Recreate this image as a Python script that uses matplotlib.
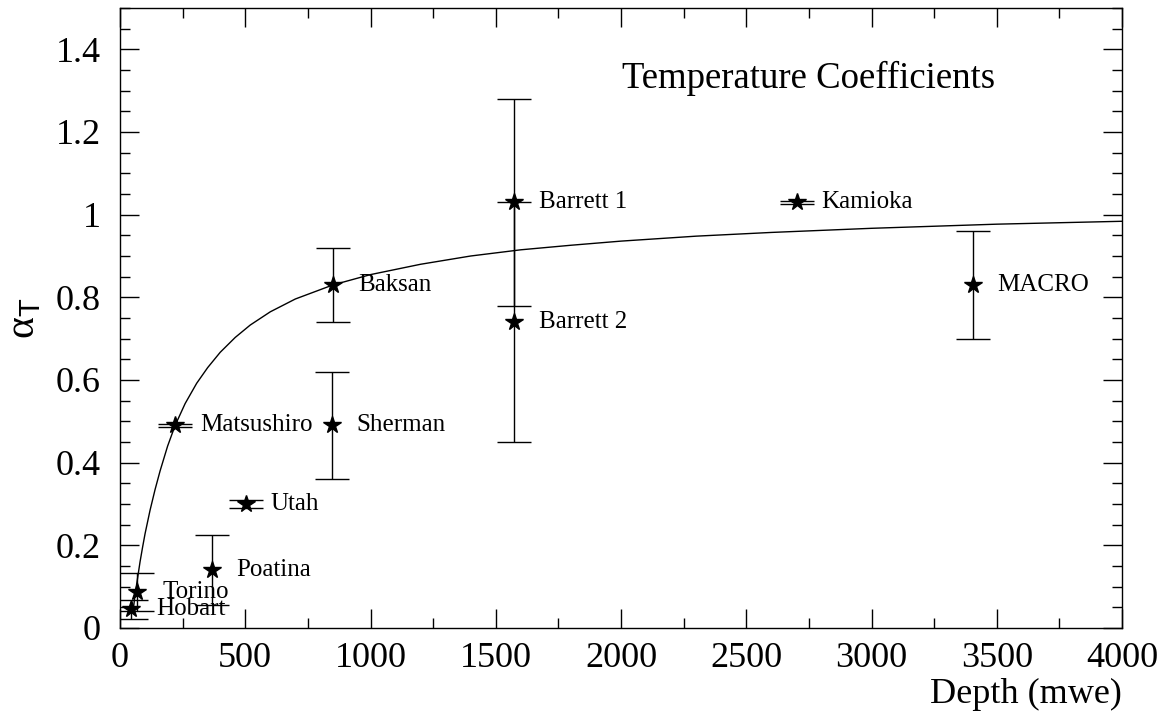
import matplotlib
matplotlib.use("Agg")
import matplotlib.pyplot as plt
from matplotlib.ticker import MultipleLocator, FixedLocator

plt.rcParams['font.family'] = ['Liberation Serif', 'DejaVu Serif']
plt.rcParams['mathtext.fontset'] = 'custom'
plt.rcParams['mathtext.rm'] = 'Liberation Sans'
plt.rcParams['mathtext.it'] = 'Liberation Sans:italic'

# ---- data ----
names = ["Hobart", "Torino", "Poatina", "Utah", "Matsushiro", "Sherman",
         "Baksan", "Barrett 1", "Barrett 2", "Kamioka", "MACRO"]
depth = [43, 69, 366, 502, 220, 845, 850, 1574, 1574, 2701, 3404]
alpha = [0.045, 0.088, 0.14, 0.30, 0.49, 0.49, 0.83, 1.03, 0.74, 1.03, 0.83]
alpha_err = [0.023, 0.046, 0.084, 0.010, 0.003, 0.13, 0.09, 0.25, 0.29, 0.003, 0.13]

curve_depth = [52, 60, 70, 80, 90, 100, 120, 140, 160, 190, 220, 260, 306,
               350, 400, 460, 520, 600, 700, 850, 1000, 1200, 1400, 1600,
               1800, 2000, 2300, 2600, 3000, 3500, 4000]
curve_alpha = [0.04, 0.08, 0.12, 0.16, 0.195, 0.228, 0.285, 0.335, 0.38,
               0.44, 0.49, 0.543, 0.592, 0.630, 0.667, 0.703, 0.733, 0.765,
               0.796, 0.830, 0.855, 0.880, 0.900, 0.915, 0.926, 0.936,
               0.948, 0.957, 0.967, 0.977, 0.984]

xticks = [0, 500, 1000, 1500, 2000, 2500, 3000, 3500, 4000]
xtick_labels = ["0", "500", "1000", "1500", "2000", "2500", "3000", "3500", "4000"]
yticks = [0, 0.2, 0.4, 0.6, 0.8, 1.0, 1.2, 1.4]
ytick_labels = ["0", "0.2", "0.4", "0.6", "0.8", "1", "1.2", "1.4"]

title = "Temperature Coefficients"
xlabel = "Depth (mwe)"
ylabel = "α$_{\\mathrm{T}}$"

# ---- figure ----
fig = plt.figure(figsize=(11.74, 7.21), dpi=100)
ax = fig.add_axes([120/1174, 1 - 628/721, 1002/1174, 620/721])

ax.plot(curve_depth, curve_alpha, color='black', lw=1.0)
ax.errorbar(depth, alpha, yerr=alpha_err, fmt='*', color='black',
            markersize=13, ecolor='black', elinewidth=1.0, capsize=12.5,
            capthick=1.0, zorder=3)

for n, x, y in zip(names, depth, alpha):
    ax.annotate(n, (x, y), xytext=(18, 0), textcoords='offset points',
                ha='left', va='center', fontsize=18)

ax.text(2750, 1.33, title, ha='center', va='center', fontsize=26.5)

ax.set_xlim(0, 4000)
ax.set_ylim(0, 1.5)
ax.xaxis.set_major_locator(FixedLocator(xticks))
ax.set_xticklabels(xtick_labels)
ax.xaxis.set_minor_locator(MultipleLocator(250))
ax.yaxis.set_major_locator(FixedLocator(yticks))
ax.set_yticklabels(ytick_labels)
ax.yaxis.set_minor_locator(MultipleLocator(0.05))

ax.tick_params(which='both', direction='in', top=True, right=True,
               labelsize=26, width=1.0)
ax.tick_params(which='major', length=13.5)
ax.tick_params(which='minor', length=7)
ax.tick_params(axis='x', which='major', pad=10)
ax.tick_params(axis='y', which='major', pad=14)

for s in ax.spines.values():
    s.set_linewidth(1.0)

ax.set_xlabel(xlabel, fontsize=26, loc='right', labelpad=2)
ax.set_ylabel(ylabel, fontsize=30, rotation=90)
ax.yaxis.set_label_coords(-0.077, 0.5)

fig.savefig("out.png", dpi=100)
